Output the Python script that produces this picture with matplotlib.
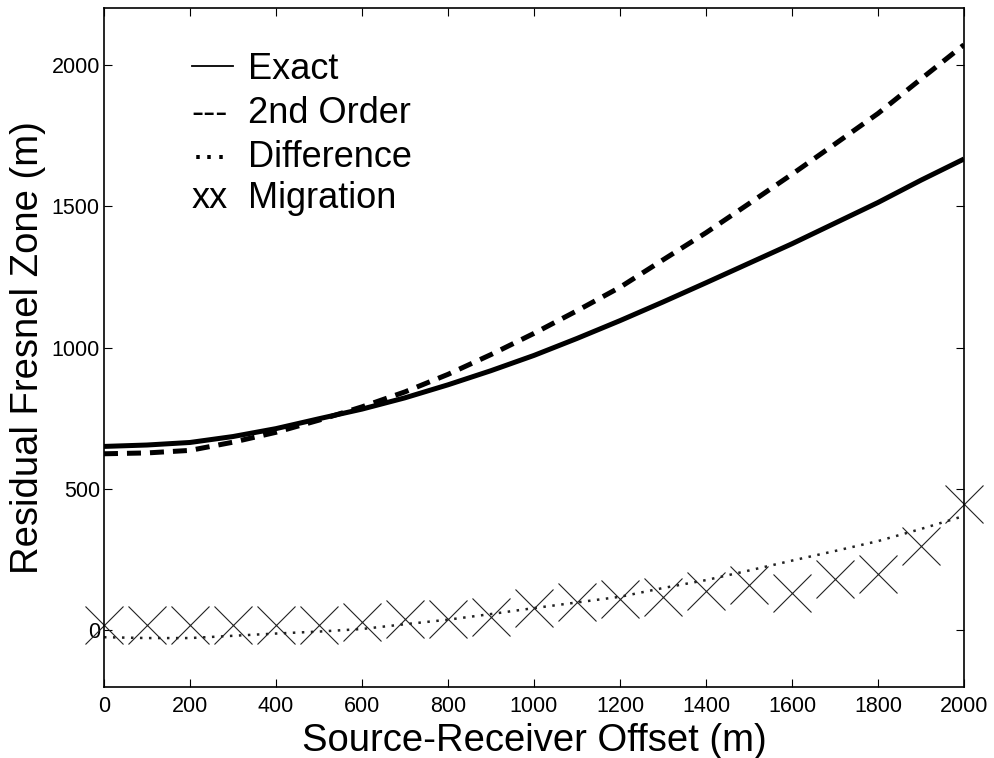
import numpy as np
import matplotlib
matplotlib.use("Agg")
import matplotlib.pyplot as plt

plt.rcParams['font.family'] = ['Liberation Sans', 'DejaVu Sans']

# offsets (m) and curves
offset = [0, 100, 200, 300, 400, 500, 600, 700, 800, 900, 1000,
          1100, 1200, 1300, 1400, 1500, 1600, 1700, 1800, 1900, 2000]
exact = [650, 655, 664, 685, 713, 748, 782, 822, 868, 918, 972,
         1032, 1095, 1161, 1229, 1298, 1367, 1440, 1513, 1592, 1667]
second_order = [624, 627, 636, 665, 700, 743, 790, 843, 905, 975, 1050,
                1130, 1213, 1310, 1406, 1509, 1613, 1720, 1828, 1950, 2071]
difference = [-25, -28, -28, -20, -12, -5, 4, 21, 37, 57, 78,
              98, 118, 149, 177, 211, 246, 280, 315, 358, 404]
migration = [18, 18, 18, 18, 18, 18, 30, 39, 39, 47, 79,
             100, 110, 118, 140, 160, 130, 180, 200, 299, 446]

legend_labels = ['Exact', '2nd Order', 'Difference', 'Migration']
legend_keys = [None, '---', '\u00b7\u00b7\u00b7', 'xx']

fig = plt.figure(figsize=(9.94, 7.58), dpi=100)
ax = fig.add_axes([0.1046, 0.0941, 0.8652, 0.8949])

ax.plot(offset, exact, color='black', lw=3.6, solid_capstyle='butt')
ax.plot(offset, second_order, color='black', lw=3.6, ls=(0, (2.8, 1.8)))
ax.plot(offset, difference, color='#222222', lw=1.8, ls=(0, (1.0, 2.6)))
ax.plot(offset, migration, ls='none', marker='x', color='#222222',
        markersize=28, markeredgewidth=0.8, clip_on=False)

ax.set_xlim(0, 2000)
ax.set_ylim(-200, 2200)
ax.set_xticks(np.arange(0, 2001, 200))
ax.set_yticks(np.arange(0, 2001, 500))
ax.tick_params(direction='in', length=6, width=0.8, top=True, right=True,
               labelsize=15.5)
ax.tick_params(axis='x', pad=7)
ax.tick_params(axis='y', pad=3)
for sp in ax.spines.values():
    sp.set_linewidth(1.2)

ax.set_xlabel('Source-Receiver Offset (m)', fontsize=27.5, labelpad=4)
ax.set_ylabel('Residual Fresnel Zone (m)', fontsize=27.5, labelpad=4)

# hand-made legend as in the original
key_x = 0.102
text_x = 0.167
rows_y = [0.896, 0.831, 0.766, 0.706]
for key, lab, yy in zip(legend_keys, legend_labels, rows_y):
    if key is None:
        ax.plot([key_x, key_x + 0.048], [0.915, 0.915], color='black', lw=1.3,
                transform=ax.transAxes)
    else:
        ax.text(key_x, yy, key, transform=ax.transAxes, fontsize=26,
                va='baseline', ha='left')
    ax.text(text_x, yy, lab, transform=ax.transAxes, fontsize=26,
            va='baseline', ha='left')

fig.savefig('out.png', dpi=100)
